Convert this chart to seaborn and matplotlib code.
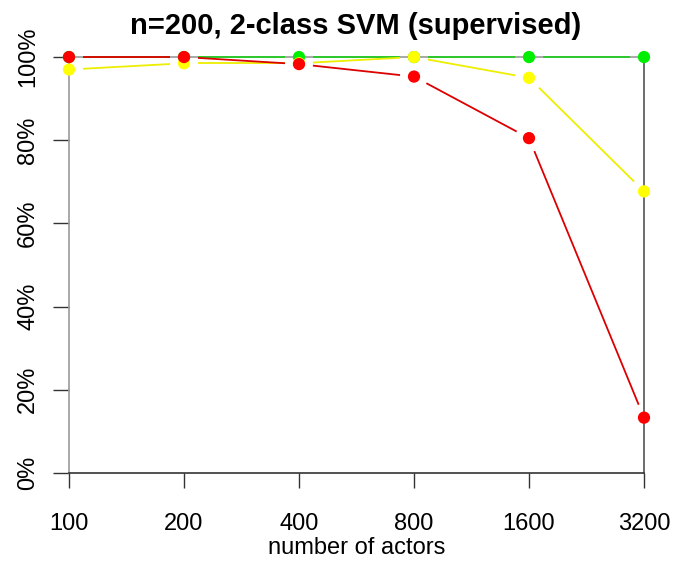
import numpy as np
import pandas as pd
import matplotlib
matplotlib.use("Agg")
import matplotlib.pyplot as plt
import seaborn as sns

# Number of actors and accuracy (%) for each configuration
actors = [100, 200, 400, 800, 1600, 3200]
acc_green = [100, 100, 100, 100, 100, 100]
acc_yellow = [97.0, 98.5, 98.5, 100, 95.0, 67.7]
acc_red = [100, 100, 98.3, 95.3, 80.5, 13.3]
y_ticks = [0, 20, 40, 60, 80, 100]

series = [("green", acc_green, "#00ee00", "#22cc22"),
          ("yellow", acc_yellow, "#ffff00", "#eeee00"),
          ("red", acc_red, "#ff0000", "#dd0000")]

pos = np.log2(np.array(actors) / actors[0])
frames = []
for name, vals, _, _ in series:
    frames.append(pd.DataFrame({"pos": pos, "acc": vals, "series": name}))
df = pd.concat(frames, ignore_index=True)

sns.set_style("white")
plt.rcParams["font.family"] = ["Liberation Sans", "DejaVu Sans"]
plt.rcParams["text.color"] = "black"

W, H = 673, 561
fig = plt.figure(figsize=(W / 100, H / 100), dpi=100)
left, right, top, bottom = 46, 667, 40.4, 489.6
ax = fig.add_axes([left / W, 1 - bottom / H, (right - left) / W, (bottom - top) / H])
ax.set_xlim(-0.2, 5.2)
ax.set_ylim(-4, 104)

# axes drawn at the data extremes, R-style
for s in ["top", "right"]:
    ax.spines[s].set_visible(False)
ax.spines["left"].set_position(("data", 0))
ax.spines["left"].set_bounds(0, 100)
ax.spines["left"].set_color("#999999")
ax.spines["bottom"].set_position(("data", 0))
ax.spines["bottom"].set_bounds(0, 5)
ax.spines["bottom"].set_color("#333333")
for s in ["left", "bottom"]:
    ax.spines[s].set_linewidth(1.2)

ax.set_xticks(pos)
ax.set_xticklabels([str(a) for a in actors], fontsize=17, color="black")
ax.set_yticks(y_ticks)
ax.set_yticklabels([f"{t}%" for t in y_ticks], fontsize=17, rotation=90,
                   va="center", color="black")
ax.tick_params(axis="x", bottom=True, direction="out", length=10.5, width=1.0,
               color="#333333", pad=18)
ax.tick_params(axis="y", left=True, direction="out", length=11.5, width=1.0,
               color="#333333", pad=10)

# reference lines at 100% and at the last x position
ax.plot([0, 5], [100, 100], color="#999999", lw=1.2, zorder=1)
ax.plot([5, 5], [0, 100], color="#555555", lw=1.2, zorder=1)

fig.canvas.draw()
gap = 14.0
for z, (name, vals, pcol, lcol) in enumerate(series):
    pts = ax.transData.transform(np.column_stack([pos, vals]))
    for a, b in zip(pts[:-1], pts[1:]):
        d = b - a
        L = np.hypot(*d)
        if L <= 2 * gap:
            continue
        u = d / L
        p0, p1 = a + u * gap, b - u * gap
        q = ax.transData.inverted().transform(np.vstack([p0, p1]))
        ax.plot(q[:, 0], q[:, 1], color=lcol, lw=1.3, zorder=2 + 2 * z,
                solid_capstyle="butt")
    sns.scatterplot(data=df[df["series"] == name], x="pos", y="acc", ax=ax,
                    color=pcol, s=78, edgecolor="none", linewidth=0,
                    zorder=3 + 2 * z, legend=False)

ax.set_xlabel("")
ax.set_ylabel("")
fig.text(356.5 / W, 1 - 548 / H, "number of actors", ha="center", va="center",
         fontsize=17, color="black")
fig.text(356 / W, 1 - 26 / H, "n=200, 2-class SVM (supervised)", ha="center",
         va="center", fontsize=21, fontweight="bold", color="black")

fig.savefig("out.png", dpi=100)
